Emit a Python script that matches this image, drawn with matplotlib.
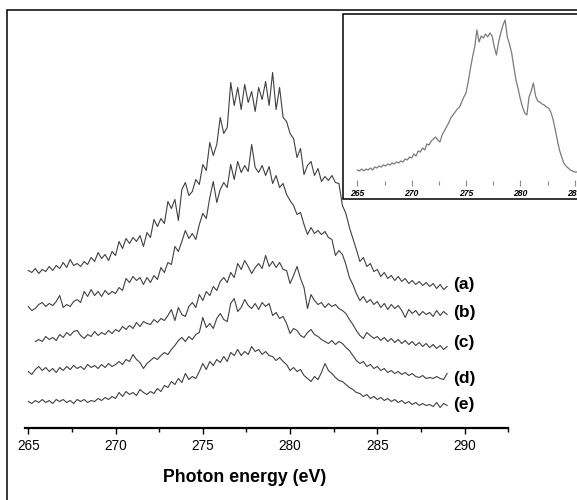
import numpy as np
import matplotlib
matplotlib.use("Agg")
import matplotlib.pyplot as plt
from matplotlib.patches import Rectangle

plt.rcParams['font.family'] = ['Liberation Sans', 'DejaVu Sans']

# ---------------- data (intensity in arbitrary units, offset-stacked) ----------------
E_START = 265.0
E_STEP = 0.2
C_START = 265.4

spec_a = [157,155,159,154,158,156,161,157,162,159,165,160,168,162,164,161,166,163,170,166,
          175,169,173,167,176,172,186,179,189,184,190,186,192,181,195,190,208,201,209,204,
          226,219,228,207,238,245,232,236,248,243,263,257,285,272,283,310,294,300,345,322,
          340,318,343,325,336,316,340,328,346,322,355,318,340,310,306,294,289,270,279,253,
          262,266,252,259,246,251,247,252,245,244,222,214,200,189,178,166,170,161,164,156,
          158,151,155,149,152,147,151,146,149,144,147,143,146,142,145,141,144,139,143,138,141]

spec_b = [121,117,119,123,125,121,124,122,126,132,120,123,121,126,128,125,136,131,138,132,
          136,131,137,133,136,134,140,137,149,145,151,147,150,143,150,145,152,148,160,155,
          165,163,181,176,186,197,189,194,188,203,214,209,230,246,225,238,245,240,263,248,
          266,255,262,256,283,260,255,262,252,261,244,252,240,244,233,227,222,213,215,203,
          193,200,194,197,193,196,190,188,172,177,173,163,150,143,134,127,131,125,128,123,
          126,120,124,118,123,119,122,117,110,118,114,117,112,116,113,115,111,117,112,116,113]

spec_c = [86,88,86,91,88,90,87,93,90,95,92,96,97,92,89,93,91,96,92,95,
          93,97,94,98,96,101,98,102,99,105,101,106,104,103,108,105,109,107,112,118,
          107,120,113,111,121,125,120,133,127,136,132,141,137,146,150,145,155,150,164,158,
          167,161,154,160,164,159,172,161,166,160,165,158,157,144,152,161,149,140,119,133,
          127,123,125,120,124,121,123,119,117,114,108,103,97,92,89,95,92,89,91,87,
          90,86,89,85,88,84,87,83,86,82,85,81,84,80,83,79,82,78,81]

spec_d = [56,53,58,61,57,60,56,59,55,60,57,61,58,62,59,61,58,63,60,62,
          59,63,60,64,61,63,66,63,68,66,73,68,65,59,64,67,70,68,72,75,
          73,78,82,87,90,86,91,88,93,95,110,100,104,99,109,114,108,106,124,129,
          116,120,128,122,119,124,118,125,121,124,112,115,109,111,104,94,99,97,92,90,
          95,98,93,91,88,86,84,87,83,86,84,80,77,72,67,64,66,61,63,59,
          61,57,59,55,57,54,56,53,55,52,54,51,50,52,49,50,49,51,49,48,54]

spec_e = [26,24,27,25,28,25,27,24,28,26,28,25,27,24,28,26,28,25,27,26,
          29,27,30,28,31,29,35,31,36,33,35,32,38,35,33,36,34,39,36,42,
          40,46,43,49,45,54,48,51,49,56,64,58,66,62,68,65,71,66,75,72,
          78,72,76,73,81,76,78,73,76,72,71,67,70,66,63,57,60,56,58,52,
          49,46,51,48,55,64,57,54,50,47,46,43,40,38,35,34,31,33,29,31,
          28,30,27,29,26,28,25,27,24,26,23,25,22,24,22,23,21,25,20,24,22]

series_labels = ['(a)', '(b)', '(c)', '(d)', '(e)']
label_heights = [142.5, 114.5, 84.5, 49.5, 22.5]

inset_spec = [11,10,12,10,12,11,13,11,14,13,15,14,16,15,17,16,18,17,19,18,
              20,19,22,21,24,23,27,25,30,29,33,31,37,36,40,42,44,41,39,46,
              50,54,58,63,66,69,72,74,79,84,88,99,112,124,134,151,139,145,143,147,
              144,148,145,134,126,139,148,156,161,144,137,128,114,101,92,82,74,68,66,84,
              90,98,85,80,79,77,76,74,73,69,62,52,41,31,24,18,15,13,11,10,
              9,9,8,8,7,7]

main_ticks = [265, 270, 275, 280, 285, 290]
inset_ticks = [265, 270, 275, 280, 285]

# ---------------- figure ----------------
W, H = 577, 500
fig = plt.figure(figsize=(W / 100, H / 100), dpi=100)
fig.patch.set_facecolor('white')

def rect(l, t, r, b):
    return [l / W, 1 - b / H, (r - l) / W, (b - t) / H]

# outer frame
fig.add_artist(Rectangle((7.3 / W, -0.1), 1.2, 1.1 - 10.5 / H, transform=fig.transFigure,
                         fill=False, ec='black', lw=1.1))

ax = fig.add_axes(rect(24.8, 10, 508.2, 427.5))
ax.set_xlim(264.8, 292.5)
ax.set_ylim(0, 417.5)
ax.patch.set_alpha(0)
for s in ['top', 'left', 'right']:
    ax.spines[s].set_visible(False)
ax.spines['bottom'].set_linewidth(1.6)
ax.set_yticks([])

line_kw = dict(color='#404040', lw=0.8)
for vals, start in [(spec_a, E_START), (spec_b, E_START), (spec_c, C_START),
                    (spec_d, E_START), (spec_e, E_START)]:
    x = start + E_STEP * np.arange(len(vals))
    ax.plot(x, vals, **line_kw)

for lab, h in zip(series_labels, label_heights):
    ax.text(289.32, h, lab, fontsize=12.5, fontweight='bold', ha='left', va='center')

ax.set_xticks(main_ticks)
ax.set_xticks(np.arange(267.5, 292.6, 5), minor=True)
ax.tick_params(axis='x', which='major', direction='out', length=4, width=1.0,
               labelsize=9.8, pad=4.5, colors='black')
ax.tick_params(axis='x', which='minor', direction='out', length=2.6, width=1.0)
ax.set_xlabel('Photon energy (eV)', fontsize=12.8, fontweight='bold')
ax.xaxis.set_label_coords((245 - 24.8) / 483.4, (427.5 - 477) / 417.5)
ax.xaxis.label.set_va('center')

# inset
fig.add_artist(Rectangle((343 / W, 1 - 199 / H), 1.0, (199 - 14) / H,
                         transform=fig.transFigure, fill=True, fc='white',
                         ec='black', lw=1.1, zorder=1))
axi = fig.add_axes(rect(343, 14, 600, 183))
axi.set_zorder(2)
axi.patch.set_alpha(0)
for s in axi.spines.values():
    s.set_visible(False)
axi.set_xlim(263.68, 287.33)
axi.set_ylim(-2, 167)
axi.set_yticks([])
xi = E_START + E_STEP * np.arange(len(inset_spec))
axi.plot(xi, inset_spec, color='#7a7a7a', lw=0.9)
axi.set_xticks(inset_ticks)
axi.set_xticks(np.arange(267.5, 285, 5), minor=True)
axi.tick_params(axis='x', which='major', direction='inout', length=4.4, width=0.8,
                color='#888888', labelsize=6.2, pad=1.8)
axi.tick_params(axis='x', which='minor', direction='inout', length=2.2, width=0.8,
                color='#888888')
for t in axi.get_xticklabels():
    t.set_fontweight('bold')
    t.set_fontstyle('italic')

fig.savefig('out.png', dpi=100, facecolor='white')
